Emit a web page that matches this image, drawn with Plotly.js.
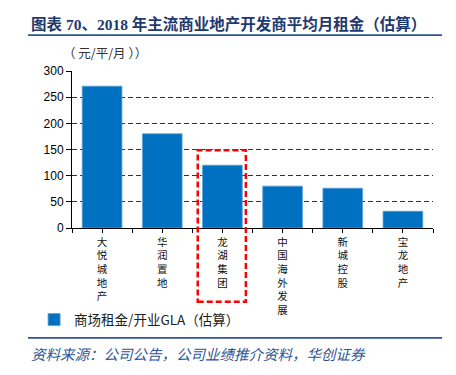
<!DOCTYPE html>
<html>
<head>
<meta charset="utf-8">
<script src="https://cdn.plot.ly/plotly-3.0.1.min.js"></script>
<style>
html,body{margin:0;padding:0;background:#fff;}
#chart{width:456px;height:375px;}
</style>
</head>
<body>
<div id="chart"></div>
<script>
var categories = ['大悦城地产', '华润置地', '龙湖集团', '中国海外发展', '新城控股', '宝龙地产'];
var rentValues = [271, 180, 120, 80, 76, 32];
var seriesName = '商场租金/开业GLA（估算）';
var yTicks = [0, 50, 100, 150, 200, 250, 300];
var highlightIndex = 2;

var cjk = '"Noto Sans CJK SC", "Noto Sans", sans-serif';
var idx = categories.map(function (c, i) { return i; });
var verticalLabels = categories.map(function (c) { return c.split('').join('<br>'); });

var trace = {
  type: 'bar',
  x: idx,
  y: rentValues,
  name: seriesName,
  width: 0.66,
  marker: { color: '#0070c0', line: { color: '#5a9fd8', width: 0.8 } },
  hoverinfo: 'y'
};

var layout = {
  width: 456,
  height: 375,
  margin: { l: 72, r: 23, t: 71, b: 147 },
  paper_bgcolor: '#ffffff',
  plot_bgcolor: '#ffffff',
  showlegend: true,
  legend: {
    orientation: 'h',
    x: -0.105, xanchor: 'left',
    y: -0.585, yanchor: 'middle',
    font: { family: cjk, size: 13.5, color: '#222' },
    bgcolor: 'rgba(0,0,0,0)',
    itemwidth: 30
  },
  xaxis: {
    range: [-0.5, categories.length - 0.5],
    tickmode: 'array',
    tickvals: idx,
    ticktext: verticalLabels,
    ticks: 'outside',
    ticklen: 4,
    tickcolor: '#000',
    minor: { tick0: -0.5, dtick: 1, ticks: 'outside', ticklen: 4, tickcolor: '#000', showgrid: false },
    showline: true,
    linecolor: '#000',
    linewidth: 1,
    showgrid: false,
    zeroline: false,
    tickfont: { family: cjk, size: 10.5, color: '#111' },
    fixedrange: true
  },
  yaxis: {
    range: [0, 300],
    tickmode: 'array',
    tickvals: yTicks,
    ticks: 'outside',
    ticklen: 5,
    tickcolor: '#000',
    showline: true,
    linecolor: '#000',
    linewidth: 1,
    showgrid: true,
    gridcolor: '#333333',
    griddash: '5px,3px',
    gridwidth: 1,
    zeroline: false,
    tickfont: { family: 'Arial, "Liberation Sans", sans-serif', size: 12, color: '#000' },
    fixedrange: true
  },
  shapes: [
    {
      type: 'rect', xref: 'x', yref: 'paper',
      x0: highlightIndex - 0.41, x1: highlightIndex + 0.39,
      y0: -0.47, y1: 0.495,
      line: { color: '#ff0000', width: 2.5, dash: '6px,3px' },
      fillcolor: 'rgba(0,0,0,0)',
      layer: 'above'
    },
    {
      type: 'line', xref: 'paper', yref: 'paper',
      x0: -0.122, x1: 1.025, y0: 1.229, y1: 1.229,
      line: { color: '#2f5597', width: 1.8 }
    },
    {
      type: 'line', xref: 'paper', yref: 'paper',
      x0: -0.122, x1: 1.025, y0: -0.70, y1: -0.70,
      line: { color: '#2f5597', width: 1.8 }
    }
  ],
  annotations: [
    {
      text: '<b>图表 70、2018 年主流商业地产开发商平均月租金（估算）</b>',
      xref: 'paper', yref: 'paper', x: -0.12, y: 1.30,
      xanchor: 'left', yanchor: 'middle', showarrow: false,
      font: { family: '"Liberation Serif", "Noto Sans CJK SC", serif', size: 15.5, color: '#1f3a6e' }
    },
    {
      text: '（ 元/平/月 ））',
      xref: 'paper', yref: 'paper', x: -0.03, y: 1.12,
      xanchor: 'left', yanchor: 'middle', showarrow: false,
      font: { family: cjk, size: 12.5, color: '#333' }
    },
    {
      text: '<i>资料来源：公司公告，公司业绩推介资料，华创证券</i>',
      xref: 'paper', yref: 'paper', x: -0.118, y: -0.80,
      xanchor: 'left', yanchor: 'middle', showarrow: false,
      font: { family: cjk, size: 14.5, color: '#2f5597' }
    }
  ]
};

Plotly.newPlot('chart', [trace], layout, { displayModeBar: false, staticPlot: true });
</script>
</body>
</html>
